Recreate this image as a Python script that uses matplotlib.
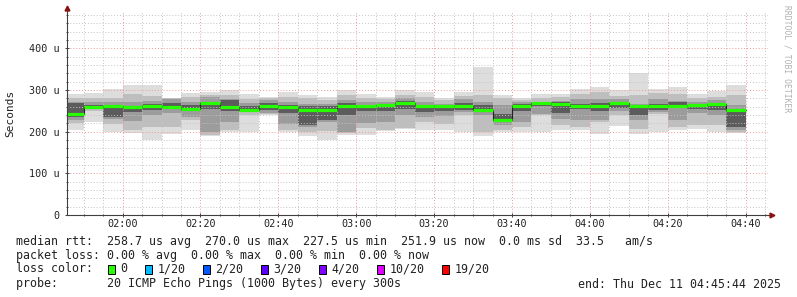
import numpy as np
import matplotlib.pyplot as plt
from matplotlib.ticker import MultipleLocator, FuncFormatter
from matplotlib.patches import Rectangle

# time axis, minutes after midnight
t_start = 105 + 44 / 60.0   # 01:45:44
t_end = 285 + 44 / 60.0     # 04:45:44
step = 5

# smoke layers per 5 min slot (microseconds), outer -> inner
lo1 = [205, 224, 200, 196, 181, 194, 204, 190, 198, 199, 240, 198, 189, 180, 193, 193, 201, 207,
       203, 203, 199, 190, 199, 199, 199, 203, 205, 195, 214, 195, 199, 203, 207, 198, 196]
hi1 = [290, 292, 302, 312, 312, 281, 292, 294, 300, 291, 282, 294, 289, 283, 300, 290, 283, 299,
       295, 281, 295, 355, 287, 281, 290, 291, 302, 307, 299, 341, 303, 307, 291, 297, 313]
lo2 = [220, 250, 218, 204, 210, 210, 227, 192, 205, 240, 242, 203, 200, 202, 196, 208, 204, 208,
       223, 219, 240, 198, 205, 211, 240, 215, 211, 223, 240, 207, 243, 211, 215, 215, 200]
hi2 = [280, 280, 280, 290, 285, 280, 283, 288, 288, 278, 280, 283, 281, 275, 288, 281, 278, 287,
       282, 276, 285, 287, 281, 277, 281, 282, 291, 295, 285, 287, 293, 291, 281, 283, 287]
lo3 = [228, 254, 230, 225, 240, 244, 236, 200, 224, 246, 245, 218, 212, 222, 200, 220, 223, 239,
       235, 238, 247, 240, 215, 223, 243, 231, 227, 227, 250, 227, 247, 227, 245, 240, 205]
hi3 = [272, 270, 270, 272, 273, 279, 270, 282, 278, 268, 276, 272, 266, 266, 275, 270, 270, 280,
       272, 267, 279, 272, 263, 270, 272, 273, 279, 279, 279, 267, 279, 273, 271, 275, 263]
lo4 = [236, 256, 236, 248, 252, 256, 250, 255, 249, 250, 252, 245, 215, 228, 240, 250, 250, 255,
       247, 250, 252, 250, 222, 250, 261, 245, 255, 250, 257, 239, 252, 257, 255, 251, 210]
hi4 = [268, 264, 258, 262, 266, 268, 264, 270, 275, 262, 268, 265, 262, 262, 268, 265, 267, 274,
       264, 264, 268, 264, 243, 267, 269, 270, 267, 268, 270, 262, 267, 270, 267, 263, 255]
median = [242, 260, 261, 260, 262, 258, 254, 268, 258, 252, 261, 258, 251, 251, 261, 261, 263, 268,
          261, 261, 261, 253, 227, 262, 269, 267, 261, 262, 268, 261, 261, 261, 263, 266, 251]

loss_labels = ["0", "1/20", "2/20", "3/20", "4/20", "10/20", "19/20"]
loss_colors = ["#26ff00", "#00b8ff", "#0059ff", "#5e00ff", "#7e00ff", "#dd00ff", "#ff0000"]

mono = "DejaVu Sans Mono"
W, H = 797, 297

n = len(median)
edges = np.concatenate([[t_start], 110 + step * np.arange(n)])
left = edges[:-1]
width = edges[1:] - edges[:-1]

fig = plt.figure(figsize=(W / 100, H / 100), dpi=100)
ax = fig.add_axes([67 / W, 1 - 215 / H, 701 / W, 203 / H])

layers = [(lo1, hi1, "#dddddd"), (lo2, hi2, "#bebebe"), (lo3, hi3, "#9c9c9c"), (lo4, hi4, "#5c5c5c")]
for lo, hi, c in layers:
    lo = np.array(lo)
    hi = np.array(hi)
    ax.bar(left, hi - lo, width=width, bottom=lo, align="edge", color=c, linewidth=0, zorder=1)

# median: thin dark step line + green band
med = np.array(median)
ax.step(np.append(left, edges[-1]), np.append(med, med[-1]), where="post",
        color="#202020", lw=0.8, zorder=3)
ax.hlines(med, left, edges[1:], color=loss_colors[0], lw=2.3, zorder=4)

ax.set_xlim(t_start, t_end)
ax.set_ylim(0, 487)

ax.xaxis.set_major_locator(MultipleLocator(20))
ax.xaxis.set_minor_locator(MultipleLocator(5))
ax.yaxis.set_major_locator(MultipleLocator(100))
ax.yaxis.set_minor_locator(MultipleLocator(20))
ax.xaxis.set_major_formatter(FuncFormatter(lambda v, p: "%02d:%02d" % (int(v) // 60, int(v) % 60)))
ax.yaxis.set_major_formatter(FuncFormatter(lambda v, p: "0" if v == 0 else "%d u" % v))

ax.grid(which="minor", color="#c4c4c4", linestyle=(0, (1, 2)), linewidth=0.7)
ax.grid(which="major", color="#f09a9a", linestyle=(0, (1, 2)), linewidth=0.7)

for s in ax.spines.values():
    s.set_visible(False)

ax.tick_params(which="both", direction="inout", color="#404040", width=0.7,
               labelsize=7.3, labelcolor="#222222")
ax.tick_params(which="major", length=3)
ax.tick_params(which="minor", length=2)
ax.tick_params(axis="x", pad=1.5)
ax.tick_params(axis="y", pad=4)
for lab in ax.get_xticklabels() + ax.get_yticklabels():
    lab.set_family(mono)

# axis lines with arrows
ax.plot([0, 1.004], [0, 0], color="#404040", lw=0.8, transform=ax.transAxes, clip_on=False, zorder=5)
ax.plot([0, 0], [0, 1.015], color="#404040", lw=0.8, transform=ax.transAxes, clip_on=False, zorder=5)
ax.plot(1.006, 0, marker=">", color="#8a1010", markersize=3.5, transform=ax.transAxes, clip_on=False, zorder=6)
ax.plot(0, 1.018, marker="^", color="#8a1010", markersize=3.5, transform=ax.transAxes, clip_on=False, zorder=6)

fig.text(10 / W, 1 - 113 / H, "Seconds", rotation=90, ha="center", va="center",
         family=mono, fontsize=8, color="#222222")
fig.text(787 / W, 1 - 5 / H, "RRDTOOL / TOBI OETIKER", rotation=270, ha="center", va="top",
         family=mono, fontsize=5.8, color="#b0b0b0")

# legend block
fs = 8.4
cw = 7.0
x0 = 16
lines_y = [241, 255, 269, 284]


def put(x, y, s, ha="left"):
    fig.text(x / W, 1 - y / H, s, ha=ha, va="center", family=mono, fontsize=fs, color="#222222")


put(x0, lines_y[0], "median rtt:  258.7 us avg  270.0 us max  227.5 us min  251.9 us now  0.0 ms sd  33.5   am/s")
put(x0, lines_y[1], "packet loss: 0.00 % avg  0.00 % max  0.00 % min  0.00 % now")
put(x0, lines_y[2], "loss color:")
bx = 108
for lab, c in zip(loss_labels, loss_colors):
    fig.patches.append(Rectangle((bx / W, 1 - (lines_y[2] + 5) / H), 7 / W, 9 / H,
                                 facecolor=c, edgecolor="#000000", linewidth=0.7,
                                 transform=fig.transFigure, figure=fig))
    put(bx + 12.5, lines_y[2], lab)
    bx += 31 + cw * len(lab) - 1
put(x0, lines_y[3], "probe:       20 ICMP Echo Pings (1000 Bytes) every 300s")
put(781, lines_y[3], "end: Thu Dec 11 04:45:44 2025", ha="right")

fig.savefig("out.png", dpi=100, facecolor="white")
